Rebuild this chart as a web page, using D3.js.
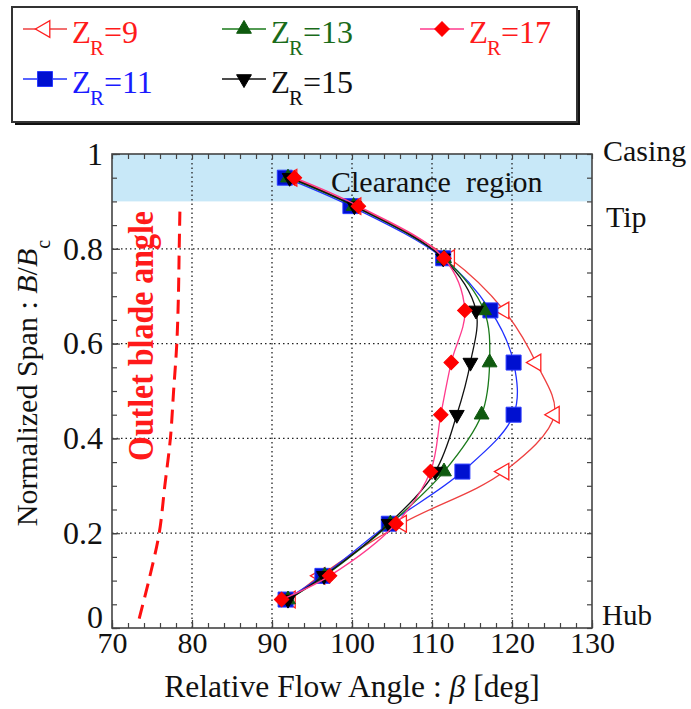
<!DOCTYPE html>
<html>
<head>
<meta charset="utf-8">
<script src="https://cdn.jsdelivr.net/npm/d3@7"></script>
<style>
  html, body { margin: 0; padding: 0; background: #fff; }
  svg text { font-family: "Liberation Serif", "Times New Roman", Times, "DejaVu Serif", "Noto Serif", serif; }
</style>
</head>
<body>
<svg id="chart" width="691" height="709"></svg>
<script>
// Spanwise measurement stations (normalized span B/Bc)
const span = [0.95, 0.89, 0.78, 0.67, 0.56, 0.45, 0.33, 0.22, 0.11, 0.06];

// Relative flow angle [deg] for each impeller blade count Z_R
const zr9  = [92.5, 100.5, 112.2, 119.0, 123.0, 125.3, 119.0, 106.2, 96.0, 92.3];
const zr11 = [91.6, 99.8, 111.4, 117.3, 120.2, 120.2, 113.8, 104.6, 96.3, 91.7];
const zr13 = [92.0, 100.2, 111.5, 116.5, 117.2, 116.2, 111.5, 104.8, 96.6, 92.0];
const zr15 = [92.2, 100.3, 111.4, 115.5, 114.8, 113.1, 110.4, 104.6, 96.5, 92.0];
const zr17 = [92.8, 100.8, 111.5, 114.1, 112.4, 111.1, 109.8, 105.5, 97.2, 91.2];

// Outlet blade angle along the span
const bladeSpan  = [0.02, 0.1, 0.2, 0.3, 0.4, 0.5, 0.6, 0.7, 0.8, 0.89];
const bladeAngle = [73.4, 74.6, 75.9, 76.6, 77.3, 77.7, 78.1, 78.3, 78.4, 78.5];

// Axis ticks
const xTicks = [70, 80, 90, 100, 110, 120, 130];
const yTicks = [0, 0.2, 0.4, 0.6, 0.8, 1];
const clearance = [0.9, 1.0];

const seriesNames = ["9", "11", "13", "15", "17"];
const seriesValues = [zr9, zr11, zr13, zr15, zr17];

const styles = {
  "9":  { line: "#ee4040", text: "#ff1a1a", stroke: "#ff2020", fill: "#ffffff", shape: "left" },
  "11": { line: "#2030ff", text: "#1a1aff", stroke: "#2a3aff", fill: "#0010d0", shape: "square" },
  "13": { line: "#1a7a1a", text: "#1a6b1a", stroke: "#0f5a0f", fill: "#0f5a0f", shape: "up" },
  "15": { line: "#111111", text: "#111111", stroke: "#000000", fill: "#000000", shape: "down" },
  "17": { line: "#ff3a8c", text: "#ff1a1a", stroke: "#ff0000", fill: "#ff0000", shape: "diamond" }
};

const FONT = "'Liberation Serif', 'Times New Roman', Times, 'DejaVu Serif', 'Noto Serif', serif";

const svg = d3.select("#chart");
const x = d3.scaleLinear().domain([70, 130]).range([112, 592]);
const y = d3.scaleLinear().domain([0, 1]).range([628, 154]);

// Clearance band
svg.append("rect")
  .attr("x", x(70)).attr("y", y(clearance[1]))
  .attr("width", x(130) - x(70)).attr("height", y(clearance[0]) - y(clearance[1]))
  .attr("fill", "#c8e8f8");

// Dotted grid
const grid = svg.append("g").attr("stroke", "#222").attr("stroke-width", 1.3)
  .attr("stroke-dasharray", "1.5 3");
xTicks.slice(1, -1).forEach(v => grid.append("line")
  .attr("x1", x(v)).attr("x2", x(v)).attr("y1", y(0)).attr("y2", y(1)));
yTicks.slice(1, -1).forEach(v => grid.append("line")
  .attr("x1", x(70)).attr("x2", x(130)).attr("y1", y(v)).attr("y2", y(v)));

// Axes with inward ticks on all four sides
const minorX = d3.range(70, 130.01, 2);
const minorY = d3.range(0, 1.0001, 0.05);
function styleAxis(size) {
  return g => {
    g.attr("font-family", FONT);
    g.select(".domain").remove();
    g.selectAll("line").attr("stroke", "#444").attr("stroke-width", 1.2);
    g.selectAll("text").attr("fill", "#111").attr("font-family", FONT).style("font-size", size + "px");
  };
}
svg.append("g").attr("transform", `translate(0,${y(0)})`)
  .call(d3.axisBottom(x).tickValues(minorX).tickSize(-5).tickFormat(""))
  .call(styleAxis(30));
svg.append("g").attr("transform", `translate(0,${y(0)})`)
  .call(d3.axisBottom(x).tickValues(xTicks).tickSize(-8).tickPadding(4).tickFormat(d3.format("d")))
  .call(styleAxis(30));
svg.append("g").attr("transform", `translate(0,${y(1)})`)
  .call(d3.axisTop(x).tickValues(minorX).tickSize(-5).tickFormat(""))
  .call(styleAxis(30));
svg.append("g").attr("transform", `translate(${x(70)},0)`)
  .call(d3.axisLeft(y).tickValues(minorY).tickSize(-5).tickFormat(""))
  .call(styleAxis(32));
const yAxisG = svg.append("g").attr("transform", `translate(${x(70)},0)`)
  .call(d3.axisLeft(y).tickValues(yTicks).tickSize(-8).tickPadding(9).tickFormat(d3.format("~g")))
  .call(styleAxis(32));
// lift the zero label clear of the x labels
yAxisG.selectAll(".tick text").filter(d => d === 0).attr("dy", "-0.02em");
svg.append("g").attr("transform", `translate(${x(130)},0)`)
  .call(d3.axisRight(y).tickValues(minorY).tickSize(-5).tickFormat(""))
  .call(styleAxis(32));

// Plot frame
svg.append("rect")
  .attr("x", x(70)).attr("y", y(1))
  .attr("width", x(130) - x(70)).attr("height", y(0) - y(1))
  .attr("fill", "none").attr("stroke", "#444").attr("stroke-width", 1.6);

// Outlet blade angle
const bladeLine = d3.line().x(d => x(d[0])).y(d => y(d[1])).curve(d3.curveCatmullRom);
svg.append("path")
  .datum(bladeAngle.map((a, i) => [a, bladeSpan[i]]))
  .attr("d", bladeLine)
  .attr("fill", "none").attr("stroke", "#ff1010").attr("stroke-width", 3)
  .attr("stroke-dasharray", "14 8");

svg.append("text")
  .attr("transform", "translate(153,336) rotate(-90)")
  .attr("text-anchor", "middle")
  .attr("fill", "#ff1a1a").attr("font-weight", "bold")
  .style("font-size", "36px")
  .attr("textLength", 250).attr("lengthAdjust", "spacingAndGlyphs")
  .text("Outlet blade angle");

svg.append("text")
  .attr("x", 331).attr("y", 192)
  .style("font-size", "30px").style("white-space", "pre")
  .attr("fill", "#111")
  .text("Clearance  region");

// Marker shapes
function markerPath(shape) {
  if (shape === "square") return d3.symbol(d3.symbolSquare, 225)();
  if (shape === "diamond") return d3.symbol(d3.symbolSquare, 105)();
  if (shape === "up" || shape === "down") return d3.symbol(d3.symbolTriangle, 95)();
  return d3.symbol(d3.symbolTriangle, 120)();
}
function markerRotate(shape) {
  return { square: 0, diamond: 45, up: 0, down: 180, left: -90 }[shape];
}
function drawMarker(g, shape, st, cx, cy) {
  g.append("path")
    .attr("d", markerPath(shape))
    .attr("transform", `translate(${cx},${cy}) rotate(${markerRotate(shape)})`)
    .attr("fill", st.fill).attr("stroke", st.stroke)
    .attr("stroke-width", shape === "left" ? 1.3 : 1);
}

// Series curves and markers
const curve = d3.line().x(d => x(d[0])).y(d => y(d[1])).curve(d3.curveCatmullRom.alpha(0.5));
seriesNames.forEach((name, k) => {
  const st = styles[name];
  const pts = seriesValues[k].map((v, i) => [v, span[i]]);
  const g = svg.append("g");
  g.append("path").datum(pts).attr("d", curve)
    .attr("fill", "none").attr("stroke", st.line).attr("stroke-width", 1.3);
  pts.forEach(p => drawMarker(g, st.shape, st, x(p[0]), y(p[1])));
});

// Side annotations
const side = svg.append("g").style("font-size", "30px").attr("fill", "#111");
side.append("text").attr("x", 603).attr("y", 161).text("Casing");
side.append("text").attr("x", 606).attr("y", 227).text("Tip");
side.append("text").attr("x", 602).attr("y", 625).style("font-size", "29px").text("Hub");

// Axis titles
const xt = svg.append("text")
  .attr("x", 352).attr("y", 697).attr("text-anchor", "middle")
  .style("font-size", "31.5px").attr("fill", "#111");
xt.append("tspan").text("Relative Flow Angle : ");
xt.append("tspan").attr("font-style", "italic").text("β");
xt.append("tspan").text(" [deg]");

const yt = svg.append("text")
  .attr("transform", "translate(37,383) rotate(-90)")
  .attr("text-anchor", "middle")
  .style("font-size", "30px").attr("fill", "#111");
yt.append("tspan").text("Normalized Span : ");
yt.append("tspan").attr("font-style", "italic").text("B");
yt.append("tspan").text("/");
yt.append("tspan").attr("font-style", "italic").text("B");
yt.append("tspan").attr("dy", 13).style("font-size", "20px").text("c");

// Legend
const legend = svg.append("g");
legend.append("rect").attr("x", 15).attr("y", 10).attr("width", 565).attr("height", 115)
  .attr("fill", "#111");
legend.append("rect").attr("x", 12).attr("y", 7).attr("width", 565).attr("height", 115)
  .attr("fill", "#fff").attr("stroke", "#333").attr("stroke-width", 2);

const legendPos = {
  "9":  { lx: 23,  row: 0 },
  "13": { lx: 222, row: 0 },
  "17": { lx: 420, row: 0 },
  "11": { lx: 23,  row: 1 },
  "15": { lx: 222, row: 1 }
};
seriesNames.forEach(name => {
  const st = styles[name];
  const p = legendPos[name];
  const cy = 29 + p.row * 50;
  const g = legend.append("g");
  g.append("line").attr("x1", p.lx).attr("x2", p.lx + 44).attr("y1", cy).attr("y2", cy)
    .attr("stroke", st.line).attr("stroke-width", 1.5);
  drawMarker(g, st.shape, st, p.lx + 22, cy);
  const tx = p.lx + 49;
  const base = cy + 14;
  g.append("text").attr("x", tx).attr("y", base).style("font-size", "31px")
    .attr("fill", st.text).text("Z");
  g.append("text").attr("x", tx + 18).attr("y", base + 12).style("font-size", "21px")
    .attr("fill", st.text).text("R");
  g.append("text").attr("x", tx + 32).attr("y", base).style("font-size", "32px")
    .attr("fill", st.text).text("=" + name);
});
</script>
</body>
</html>
